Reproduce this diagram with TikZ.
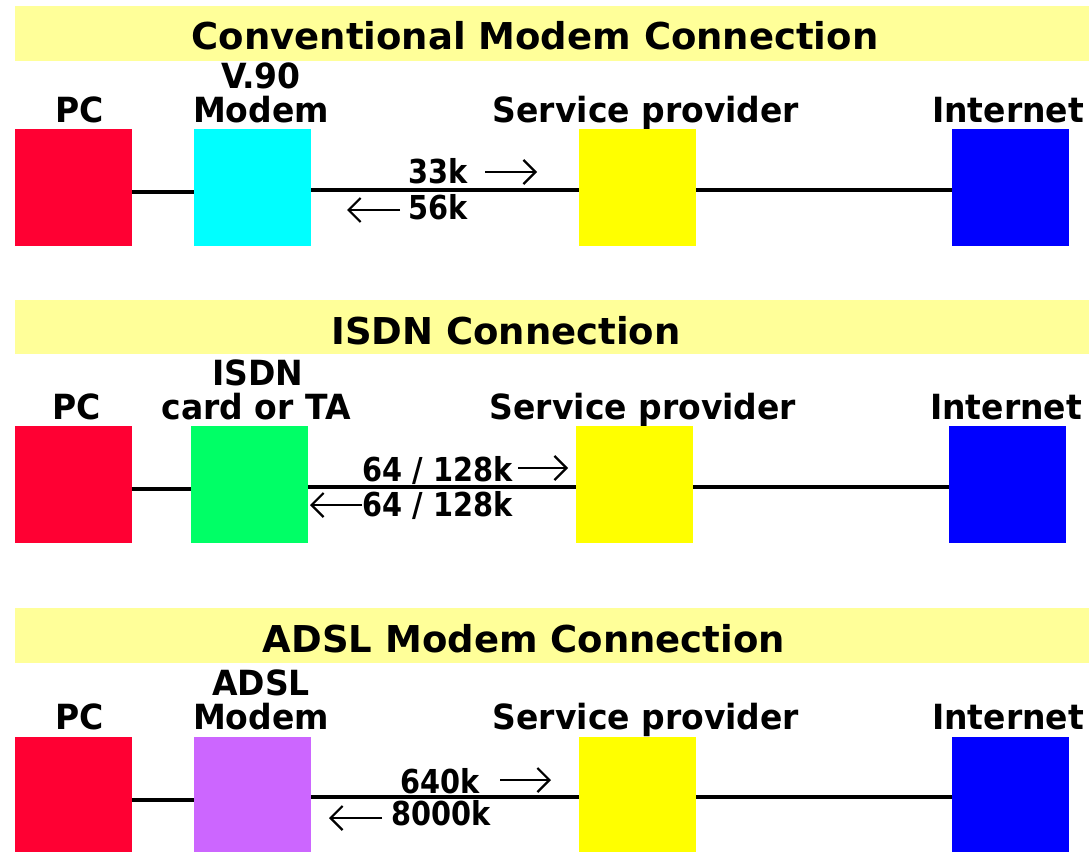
\documentclass[tikz,border=0pt]{standalone}
\usepackage{fontspec}
\setmainfont{DejaVu Sans}
\usetikzlibrary{arrows.meta}
\definecolor{bannerY}{HTML}{FFFF99}
\definecolor{pcRed}{HTML}{FF0033}
\definecolor{modemCyan}{HTML}{00FFFF}
\definecolor{spYellow}{HTML}{FFFF00}
\definecolor{netBlue}{HTML}{0000FF}
\definecolor{isdnGreen}{HTML}{00FF66}
\definecolor{adslPurple}{HTML}{CC66FF}
\begin{document}
\begin{tikzpicture}[x=1pt,y=-1pt,
  box/.style={inner sep=0pt, outer sep=0pt, minimum width=117pt, minimum height=117pt, anchor=north west},
  banner/.style={fill=bannerY, draw=none},
  title/.style={anchor=base, inner sep=0pt, font=\fontsize{37}{37}\selectfont\bfseries},
  lab/.style={anchor=base, inner sep=0pt, yscale=1.05, font=\fontsize{33}{33}\selectfont\bfseries},
  spd/.style={anchor=base, inner sep=0pt, xscale=0.9, yscale=1.03, font=\fontsize{32}{32}\selectfont\bfseries},
  wire/.style={line width=3.3pt},
  flow/.style={line width=2.4pt, -{Straight Barb[length=12pt,width=24pt,line width=2.2pt]}}]
\useasboundingbox (0,0) rectangle (1091,851);
\fill[white] (0,0) rectangle (1091,851);

% ---------------- Row 1 ----------------
\fill[banner] (15,6) rectangle (1089,61);
\node[title] (t1) at (535,49) {Conventional Modem Connection};
\node[lab] (l1pc) at (80,122) {PC};
\node[lab] (l1m1) at (261,88) {V.90};
\node[lab] (l1m2) at (261,122) {Modem};
\node[lab] (l1sp) at (646,122) {Service provider};
\node[lab] (l1in) at (1008,122) {Internet};
\node[box, fill=pcRed] (pc1) at (15,129) {};
\node[box, fill=modemCyan] (m1) at (194,129) {};
\node[box, fill=spYellow] (sp1) at (579,129) {};
\node[box, fill=netBlue] (in1) at (952,129) {};
\draw[wire] ([yshift=-4.5pt]pc1.east) -- ([yshift=-4.5pt]m1.west);
\draw[wire] ([yshift=-2.5pt]m1.east) -- ([yshift=-2.5pt]sp1.west);
\draw[wire] ([yshift=-2.5pt]sp1.east) -- ([yshift=-2.5pt]in1.west);
\node[spd] (s1a) at (438,183) {33k};
\node[spd] (s1b) at (438,219) {56k};
\coordinate (a1s) at (485,172); \coordinate (a1e) at (537,172);
\coordinate (b1s) at (400,210); \coordinate (b1e) at (347,210);
\draw[flow] (a1s) -- (a1e);
\draw[flow] (b1s) -- (b1e);

% ---------------- Row 2 ----------------
\fill[banner] (15,300) rectangle (1089,354);
\node[title] (t2) at (506,344) {ISDN Connection};
\node[lab] (l2pc) at (77,419) {PC};
\node[lab] (l2m1) at (258,385) {ISDN};
\node[lab] (l2m2) at (256,419) {card or TA};
\node[lab] (l2sp) at (643,419) {Service provider};
\node[lab] (l2in) at (1006,419) {Internet};
\node[box, fill=pcRed] (pc2) at (15,426) {};
\node[box, fill=isdnGreen] (m2) at (191,426) {};
\node[box, fill=spYellow] (sp2) at (576,426) {};
\node[box, fill=netBlue] (in2) at (949,426) {};
\draw[wire] ([yshift=-4.5pt]pc2.east) -- ([yshift=-4.5pt]m2.west);
\draw[wire] ([yshift=-2.5pt]m2.east) -- ([yshift=-2.5pt]sp2.west);
\draw[wire] ([yshift=-2.5pt]sp2.east) -- ([yshift=-2.5pt]in2.west);
\node[spd] (s2a) at (437.5,481) {64 / 128k};
\node[spd] (s2b) at (437.5,516) {64 / 128k};
\coordinate (a2s) at (518,468); \coordinate (a2e) at (568,468);
\coordinate (b2s) at (362,505); \coordinate (b2e) at (310,505);
\draw[flow] (a2s) -- (a2e);
\draw[flow] (b2s) -- (b2e);

% ---------------- Row 3 ----------------
\fill[banner] (15,608) rectangle (1089,663);
\node[title] (t3) at (524,652) {ADSL Modem Connection};
\node[lab] (l3pc) at (80,729) {PC};
\node[lab] (l3m1) at (261,695) {ADSL};
\node[lab] (l3m2) at (261,729) {Modem};
\node[lab] (l3sp) at (646,729) {Service provider};
\node[lab] (l3in) at (1008,729) {Internet};
\node[box, fill=pcRed, minimum height=116pt] (pc3) at (15,737) {};
\node[box, fill=adslPurple, minimum height=116pt] (m3) at (194,737) {};
\node[box, fill=spYellow, minimum height=116pt] (sp3) at (579,737) {};
\node[box, fill=netBlue, minimum height=116pt] (in3) at (952,737) {};
\draw[wire] ([yshift=-5pt]pc3.east) -- ([yshift=-5pt]m3.west);
\draw[wire] ([yshift=-2pt]m3.east) -- ([yshift=-2pt]sp3.west);
\draw[wire] ([yshift=-2pt]sp3.east) -- ([yshift=-2pt]in3.west);
\node[spd] (s3a) at (440,793) {640k};
\node[spd] (s3b) at (441,825) {8000k};
\coordinate (a3s) at (500,780); \coordinate (a3e) at (551,780);
\coordinate (b3s) at (382,818); \coordinate (b3e) at (329,818);
\draw[flow] (a3s) -- (a3e);
\draw[flow] (b3s) -- (b3e);
\end{tikzpicture}
\end{document}
